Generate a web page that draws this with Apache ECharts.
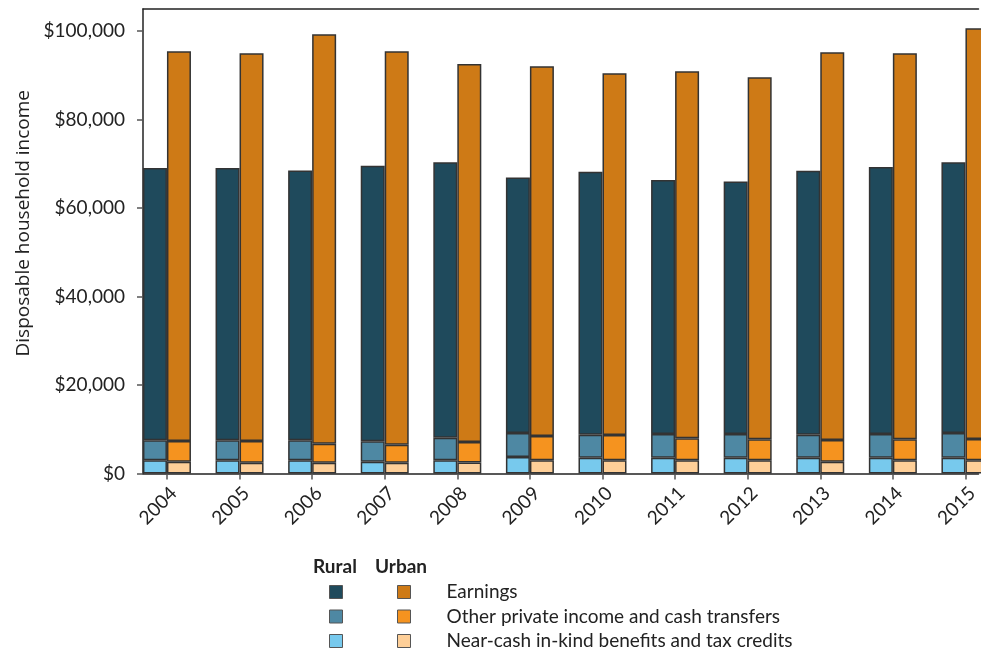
<!DOCTYPE html>
<html>
<head>
<meta charset="utf-8">
<script src="https://cdn.jsdelivr.net/npm/echarts@6/dist/echarts.min.js"></script>
<style>
  html, body { margin: 0; padding: 0; background: #fff; }
  #chart { width: 981px; height: 652px; }
</style>
</head>
<body>
<div id="chart"></div>
<script>
// years on the x axis
let years = [2004, 2005, 2006, 2007, 2008, 2009, 2010, 2011, 2012, 2013, 2014, 2015];
let yTicks = [0, 20000, 40000, 60000, 80000, 100000];

// rural components
let ruralEarnings = [61530, 61530, 61010, 62300, 62300, 57790, 59450, 57400, 57110, 59680, 60340, 61240];
let ruralOther = [4500, 4500, 4500, 4610, 5080, 5420, 5190, 5350, 5350, 5190, 5350, 5570];
let ruralNearCash = [3000, 3000, 3000, 2660, 3000, 3720, 3570, 3570, 3570, 3570, 3570, 3570];

// urban components
let urbanEarnings = [88100, 87650, 92550, 88940, 85480, 83600, 81790, 82980, 81850, 87650, 87270, 92840];
let urbanOther = [4680, 4900, 4290, 4060, 4630, 5460, 5710, 4970, 4740, 4900, 4740, 4810];
let urbanNearCash = [2660, 2440, 2440, 2440, 2480, 3000, 2980, 2980, 2980, 2660, 2980, 2980];

let componentNames = ['Earnings', 'Other private income and cash transfers', 'Near-cash in-kind benefits and tax credits'];
let ruralColors = ['#1f4a5c', '#4e88a3', '#77c9ed'];
let urbanColors = ['#ce7a16', '#f5931f', '#fecf98'];

let font = 'Lato';
// value first so the stack happens on y, year second for x
let pairs = (vals) => vals.map((v, i) => [v, years[i]]);

let makeSeries = (name, stack, vals, color) => ({
  name: name,
  type: 'bar',
  stack: stack,
  data: pairs(vals),
  encode: { x: 1, y: 0 },
  barWidth: 24,
  barGap: '0%',
  clip: true,
  itemStyle: { color: color, borderColor: '#333', borderWidth: 1.5 },
  emphasis: { disabled: true }
});

// stacks go bottom -> top, so near-cash first
let series = [
  makeSeries('Rural ' + componentNames[2], 'rural', ruralNearCash, ruralColors[2]),
  makeSeries('Rural ' + componentNames[1], 'rural', ruralOther, ruralColors[1]),
  makeSeries('Rural ' + componentNames[0], 'rural', ruralEarnings, ruralColors[0]),
  makeSeries(componentNames[2], 'urban', urbanNearCash, urbanColors[2]),
  makeSeries(componentNames[1], 'urban', urbanOther, urbanColors[1]),
  makeSeries(componentNames[0], 'urban', urbanEarnings, urbanColors[0])
];

let legendBase = {
  orient: 'vertical',
  top: 582.5,
  height: 69,
  padding: 0,
  icon: 'rect',
  itemWidth: 13,
  itemHeight: 13,
  itemGap: 5.5,
  selectedMode: false,
  itemStyle: { borderColor: '#555', borderWidth: 1 },
  textStyle: { fontFamily: font, fontSize: 19, color: '#222', lineHeight: 19 }
};

let xMin = 2003.67, xMax = 2015.18;

let chart = echarts.init(document.getElementById('chart'));
chart.setOption({
  animation: false,
  textStyle: { fontFamily: font },
  grid: { left: 143, right: 0, top: 9, bottom: 178.5 },
  xAxis: [{
    type: 'value',
    min: xMin,
    max: xMax,
    splitLine: { show: false },
    axisLine: { show: true, lineStyle: { color: '#222', width: 1.5 } },
    axisTick: { show: true, length: 6, customValues: years, lineStyle: { color: '#555', width: 1.5 } },
    axisLabel: {
      customValues: years,
      rotate: 45,
      margin: 10,
      verticalAlign: 'top',
      fontSize: 19,
      color: '#222',
      fontFamily: font,
      formatter: (v) => String(v)
    }
  }, {
    // top frame line only
    type: 'value',
    position: 'top',
    min: xMin,
    max: xMax,
    splitLine: { show: false },
    axisLine: { show: true, lineStyle: { color: '#222', width: 1.5 } },
    axisTick: { show: false },
    axisLabel: { show: false }
  }],
  yAxis: {
    type: 'value',
    min: 0,
    max: 105000,
    name: 'Disposable household income',
    nameLocation: 'middle',
    nameGap: 110,
    nameTextStyle: { fontFamily: 'Open Sans', fontSize: 19, color: '#222', padding: [0, 0, 0, 36] },
    splitLine: { show: false },
    axisLine: { show: true, lineStyle: { color: '#222', width: 1.5 } },
    axisTick: { show: true, length: 6, customValues: yTicks, lineStyle: { color: '#555', width: 1.5 } },
    axisLabel: {
      customValues: yTicks,
      margin: 18,
      fontSize: 19,
      color: '#222',
      fontFamily: font,
      formatter: (v) => '$' + v.toLocaleString('en-US')
    }
  },
  legend: [
    Object.assign({}, legendBase, {
      left: 329,
      data: series.slice(0, 3).map(s => s.name).reverse(),
      formatter: () => '\u00a0'
    }),
    Object.assign({}, legendBase, {
      left: 397,
      data: componentNames,
      textStyle: Object.assign({}, legendBase.textStyle, { padding: [0, 0, 0, 31] })
    })
  ],
  graphic: [
    { type: 'text', left: 313, top: 557, style: { text: 'Rural', fontFamily: font, fontSize: 19, fontWeight: 'bold', fill: '#222' } },
    { type: 'text', left: 375, top: 557, style: { text: 'Urban', fontFamily: font, fontSize: 19, fontWeight: 'bold', fill: '#222' } }
  ],
  series: series
});
</script>
</body>
</html>
